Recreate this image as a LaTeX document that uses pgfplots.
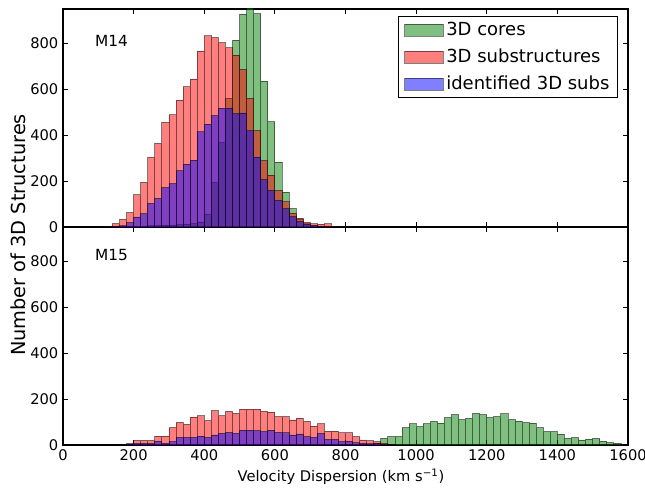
\documentclass[border=0pt]{standalone}
\usepackage{fontspec}
\setmainfont{DejaVu Sans}
\usepackage{pgfplots}
\usepackage{pgfplotstable}
\pgfplotsset{compat=1.18}

\definecolor{mgreen}{rgb}{0,0.5,0}
\definecolor{mred}{rgb}{1,0,0}
\definecolor{mblue}{rgb}{0,0,1}

% M14: left bin edge, 3D cores, 3D substructures, identified 3D subs
\pgfplotstableread{
lo g r b
100 0 1 0
120 0 4 1
140 0 15 3
160 1 33 5
180 2 63 19
200 3 140 44
220 4 194 58
240 5 303 103
260 6 364 125
280 8 456 172
300 8 489 189
320 10 553 245
340 12 611 274
360 15 645 291
380 22 767 415
400 55 833 448
420 193 825 485
440 368 803 518
460 562 781 518
480 814 749 494
500 928 687 497
520 990 561 420
540 930 420 305
560 636 289 206
580 458 226 160
600 283 160 116
620 152 110 80
640 80 60 45
660 35 39 25
680 15 20 12
700 6 14 6
720 3 12 4
740 2 14 2
760 1 4 1
780 0 2 0
}\mfourteen

% M15 substructures
\pgfplotstableread{
lo r b
140 1 0
160 3 2
180 7 3
200 20 7
220 20 7
240 20 7
260 39 17
280 39 7
300 76 15
320 99 33
340 90 33
360 121 33
380 127 39
400 106 33
420 150 44
440 127 51
460 147 55
480 138 51
500 156 65
520 156 65
540 156 63
560 147 58
580 143 65
600 124 55
620 124 53
640 109 44
660 117 48
680 103 36
700 83 33
720 92 51
740 61 25
760 61 25
780 53 15
800 53 17
820 36 10
840 22 7
860 19 5
880 15 7
900 7 2
920 3 1
}\mfifteensub

% M15 cores
\pgfplotstableread{
lo g
840 2
860 3
880 8
900 29
920 36
940 36
960 76
980 92
1000 80
1020 92
1040 103
1060 95
1080 119
1100 132
1120 111
1140 116
1160 138
1180 132
1200 119
1220 124
1240 136
1260 111
1280 104
1300 97
1320 95
1340 76
1360 58
1380 58
1400 47
1420 29
1440 32
1460 22
1480 26
1500 29
1520 17
1540 10
1560 7
}\mfifteencore

\pgfplotsset{
  hist/.style={ybar, bar width=20, bar shift=0pt, fill=#1, fill opacity=0.5,
    draw=black, draw opacity=0.5, line width=0.6pt, forget plot},
  panel/.style={scale only axis, width=423.75pt, height=163.5pt,
    xmin=0, xmax=1600, ymin=0, ymax=950,
    xtick={0,200,...,1600}, ytick={0,200,...,800},
    tick align=inside, major tick length=3.75pt,
    axis line style={line width=0.8pt}, tick style={black, line width=0.6pt},
    ticklabel style={font=\fontsize{11}{13}\selectfont},
    /pgf/number format/assume math mode=true,
    /pgf/number format/1000 sep={}},
}

\begin{document}
\begin{tikzpicture}
\path[use as bounding box] (-47.25pt,-36pt) rectangle (436.5pt,333.75pt);

\begin{axis}[panel, name=bot, at={(0pt,0pt)}, anchor=south west]
\addplot[hist=mgreen] table[x expr=\thisrow{lo}+10, y=g] {\mfifteencore};
\addplot[hist=mred] table[x expr=\thisrow{lo}+10, y=r] {\mfifteensub};
\addplot[hist=mblue] table[x expr=\thisrow{lo}+10, y=b] {\mfifteensub};
\node[anchor=west, inner sep=0pt, font=\fontsize{11.5}{13}\selectfont] at (axis cs:90,830) {M15};
\end{axis}

\begin{axis}[panel, name=top, at={(0pt,163.5pt)}, anchor=south west,
  xticklabels={,,},
  legend style={at={(0.982,0.968)}, anchor=north east, draw=black, line width=0.6pt,
    fill=white, font=\fontsize{13.5}{16}\selectfont, inner xsep=4pt, inner ysep=2.5pt,
    row sep=4.5pt, /tikz/every even column/.append style={column sep=6pt}},
  legend cell align=left,
  legend image code/.code={\draw[#1] (0pt,-4.5pt) rectangle (29pt,4.5pt);},
]
\addplot[hist=mgreen] table[x expr=\thisrow{lo}+10, y=g] {\mfourteen};
\addplot[hist=mred] table[x expr=\thisrow{lo}+10, y=r] {\mfourteen};
\addplot[hist=mblue] table[x expr=\thisrow{lo}+10, y=b] {\mfourteen};
\addlegendimage{fill=mgreen, fill opacity=0.5, draw=black, draw opacity=0.5, line width=0.6pt}
\addlegendentry{3D cores}
\addlegendimage{fill=mred, fill opacity=0.5, draw=black, draw opacity=0.5, line width=0.6pt}
\addlegendentry{3D substructures}
\addlegendimage{fill=mblue, fill opacity=0.5, draw=black, draw opacity=0.5, line width=0.6pt}
\addlegendentry{identified 3D subs}
\node[anchor=west, inner sep=0pt, font=\fontsize{11.5}{13}\selectfont] at (axis cs:90,812) {M14};
\end{axis}

\node[rotate=90, font=\fontsize{14.5}{17}\selectfont] at (-33.75pt,157.5pt) {Number of 3D Structures};
\node[font=\fontsize{11}{13}\selectfont] at (208.5pt,-24pt) {Velocity Dispersion (km s\textsuperscript{−1})};
\end{tikzpicture}
\end{document}
